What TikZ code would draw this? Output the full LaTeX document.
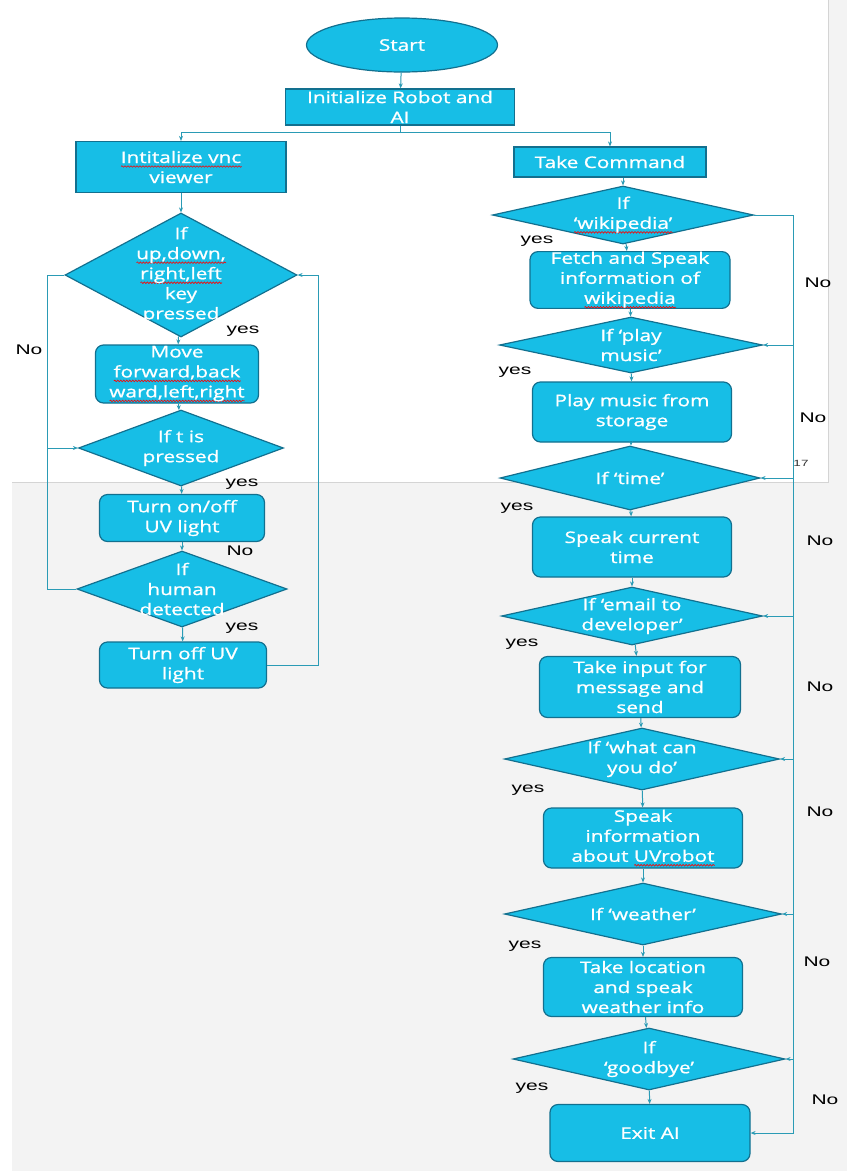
\documentclass[tikz,border=0pt]{standalone}
\usepackage{fontspec}
\setmainfont[FakeStretch=1.3,FakeBold=1]{Open Sans}
\newfontfamily\labelfont[FakeStretch=1.5]{Liberation Sans}
\usetikzlibrary{shapes.geometric,arrows.meta,decorations.pathmorphing}
\definecolor{boxfill}{HTML}{17BEE6}
\definecolor{boxline}{HTML}{12708F}
\definecolor{flowline}{HTML}{2A9BB5}
\definecolor{panelgray}{HTML}{F3F3F3}
\definecolor{panelline}{HTML}{D4D4D4}
\newsavebox\wavebox
\newcommand\spellwave[1]{\sbox\wavebox{#1}%
  \rlap{\tikz[baseline=0pt]\draw[red,sharp corners,line width=0.6pt,decorate,
    decoration={snake,amplitude=0.8pt,segment length=3pt}]
    (0pt,-3.5pt) -- (\wd\wavebox,-3.5pt);}%
  \usebox\wavebox}
\begin{document}
\begin{tikzpicture}[x=1pt,y=-1pt,font=\fontsize{16}{20}\selectfont,
    terminal/.style={ellipse,draw=boxline,line width=1.2pt,fill=boxfill,text=white,inner sep=0pt},
    process/.style={rectangle,draw=boxline,line width=1.2pt,fill=boxfill,text=white,align=center,inner sep=0pt},
    roundbox/.style={process,rounded corners=8pt},
    decision/.style={diamond,draw=boxline,line width=1.2pt,fill=boxfill,inner sep=0pt},
    dtext/.style={text=white,align=center},
    flow/.style={draw=flowline,line width=1pt,-{Stealth[length=5pt,width=4pt]}},
    link/.style={draw=flowline,line width=1pt},
    answer/.style={font=\labelfont\fontsize{14}{16}\selectfont}]
  % screenshot background
  \useasboundingbox (0,0) rectangle (847,1171);
  \fill[panelgray] (0,0) rectangle (847,1171);
  \fill[white] (0,0) rectangle (828,482);
  \fill[white] (0,482) rectangle (12,1171);
  \draw[panelline] (12,482) -- (828,482) -- (828,0);
  \node[font=\labelfont\fontsize{9}{10}\selectfont,text=black!80] (stray) at (801,463) {17};
  % top
  \node[terminal,minimum width=191,minimum height=54] (start) at (402,45) {Start};
  \node[process,minimum width=229,minimum height=36] (init) at (400,107) {Initialize Robot and\\AI};
  \coordinate (split) at (400,132);
  \node[process,minimum width=210,minimum height=51] (vnc) at (181,167) {\spellwave{Intitalize vnc}\\viewer};
  \node[process,minimum width=192,minimum height=30] (take) at (610,162) {Take Command};
  % left column
  \node[decision,minimum width=232,minimum height=124,
    label={[dtext]center:{If\\\spellwave{up,down,}\\\spellwave{right,left}\\key\\pressed}}] (keys) at (181,275) {};
  \node[roundbox,minimum width=163,minimum height=58] (move) at (177,374) {Move\\\spellwave{forward,back}\\\spellwave{ward,left,right}};
  \node[decision,minimum width=205,minimum height=76,
    label={[dtext]center:{If t is\\pressed}}] (tkey) at (181,448) {};
  \node[roundbox,minimum width=165,minimum height=47] (uvon) at (182,518) {Turn on/off\\UV light};
  \node[decision,minimum width=210,minimum height=76,
    label={[dtext]center:{If\\human\\detected}}] (human) at (182,589) {};
  \node[roundbox,minimum width=167,minimum height=46] (uvoff) at (183,665) {Turn off UV\\light};
  % right column
  \node[decision,minimum width=261,minimum height=58,
    label={[dtext]center:{If\\\spellwave{`wikipedia'}}}] (wiki) at (623,215) {};
  \node[roundbox,minimum width=200,minimum height=56] (fetch) at (630,280) {Fetch and Speak\\information of\\\spellwave{wikipedia}};
  \node[decision,minimum width=263,minimum height=56,
    label={[dtext]center:{If `play\\music'}}] (music) at (631,345) {};
  \node[roundbox,minimum width=199,minimum height=60] (play) at (632,412) {Play music from\\storage};
  \node[decision,minimum width=260,minimum height=64,
    label={[dtext]center:{If `time'}}] (timeq) at (630,478) {};
  \node[roundbox,minimum width=199,minimum height=60] (clock) at (632,547) {Speak current\\time};
  \node[decision,minimum width=261,minimum height=58,
    label={[dtext]center:{If `email to\\developer'}}] (email) at (632,616) {};
  \node[roundbox,minimum width=201,minimum height=61] (mail) at (640,687) {Take input for\\message and\\send};
  \node[decision,minimum width=275,minimum height=62,
    label={[dtext]center:{If `what can\\you do'}}] (what) at (642,759) {};
  \node[roundbox,minimum width=199,minimum height=60] (about) at (643,838) {Speak\\information\\about \spellwave{UVrobot}};
  \node[decision,minimum width=277,minimum height=62,
    label={[dtext]center:{If `weather'}}] (weather) at (643,914) {};
  \node[roundbox,minimum width=199,minimum height=59] (forecast) at (643,987) {Take location\\and speak\\weather info};
  \node[decision,minimum width=272,minimum height=62,
    label={[dtext]center:{If\\`goodbye'}}] (bye) at (649,1059) {};
  \node[roundbox,minimum width=200,minimum height=57] (exit) at (650,1133) {Exit AI};
  \coordinate (rail) at (793,215);
  % connectors
  \draw[flow] (start) -- (init);
  \draw[link] (init) -- (split);
  \draw[flow] (split) -| (vnc);
  \draw[flow] (split) -| (take);
  \draw[flow] (take.south -| wiki.north) -- (wiki.north);
  \draw[flow] (vnc) -- (keys);
  \draw[flow] (keys) -- (move);
  \draw[flow] (move) -- (tkey);
  \draw[flow] (tkey) -- (uvon);
  \draw[flow] (uvon) -- (human);
  \draw[flow] (human) -- (uvoff);
  \draw[link] (keys.west) -- ++(-17,0) |- (human.west);
  \draw[flow] ([xshift=-30pt]tkey.west) -- (tkey.west);
  \draw[flow] (uvoff.east) -- ++(51,0) |- (keys.east);
  \draw[flow] (wiki) -- (fetch);
  \draw[flow] (fetch) -- (music);
  \draw[flow] (music) -- (play);
  \draw[flow] (play) -- (timeq);
  \draw[flow] (timeq) -- (clock);
  \draw[flow] (clock) -- (email);
  \draw[flow] (email) -- (mail);
  \draw[flow] (mail) -- (what);
  \draw[flow] (what) -- (about);
  \draw[flow] (about) -- (weather);
  \draw[flow] (weather) -- (forecast);
  \draw[flow] (forecast) -- (bye);
  \draw[flow] (bye) -- (exit);
  \draw[flow] (wiki.east) -- (rail) |- (exit.east);
  \foreach \q in {music,timeq,email,what,weather,bye}
    \draw[flow] (\q.east -| rail) -- (\q.east);
  % yes / No labels
  \node[answer] (yesA) at (243,331) {yes};
  \node[answer] (noA) at (29,350) {No};
  \node[answer] (yesB) at (242,484) {yes};
  \node[answer] (noB) at (240,551) {No};
  \node[answer] (yesC) at (242,628) {yes};
  \node[answer] (yesD) at (537,241) {yes};
  \node[answer] (yesE) at (515,372) {yes};
  \node[answer] (yesF) at (517,508) {yes};
  \node[answer] (yesG) at (522,644) {yes};
  \node[answer] (yesH) at (528,790) {yes};
  \node[answer] (yesI) at (525,946) {yes};
  \node[answer] (yesJ) at (532,1088) {yes};
  \node[answer] (noC) at (818,283) {No};
  \node[answer] (noD) at (813,418) {No};
  \node[answer] (noE) at (820,541) {No};
  \node[answer] (noF) at (820,687) {No};
  \node[answer] (noG) at (820,812) {No};
  \node[answer] (noH) at (817,962) {No};
  \node[answer] (noI) at (825,1100) {No};
\end{tikzpicture}
\end{document}
